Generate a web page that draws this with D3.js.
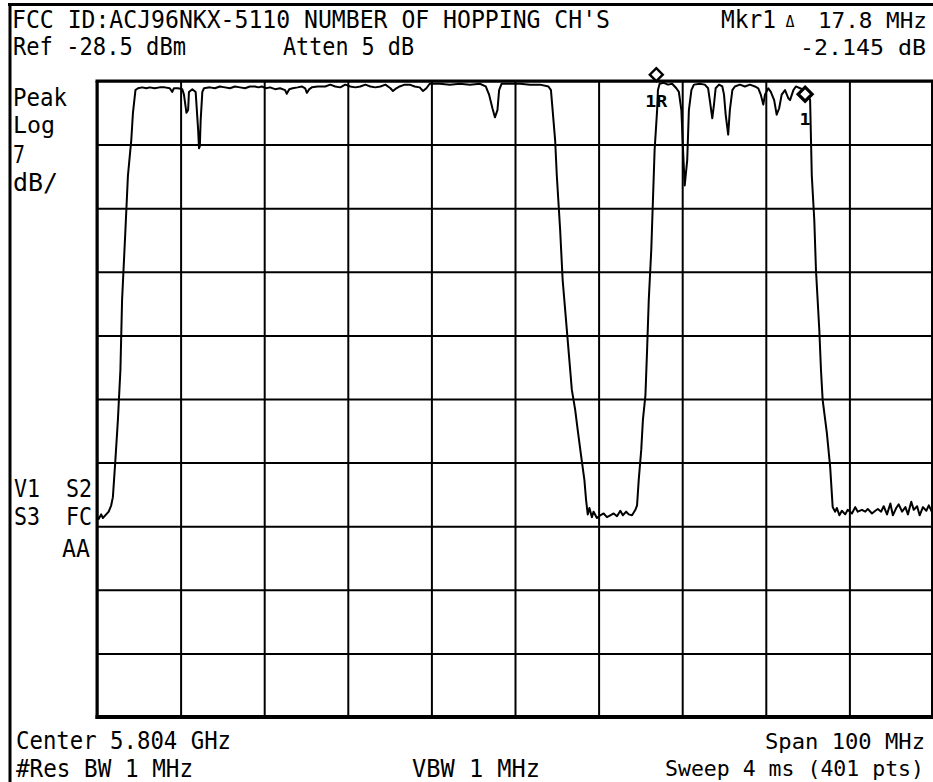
<!DOCTYPE html>
<html>
<head>
<meta charset="utf-8">
<script src="https://cdnjs.cloudflare.com/ajax/libs/d3/7.8.5/d3.min.js"></script>
<style>
  html, body { margin: 0; padding: 0; background: #fff; }
  svg { display: block; }
  text { font-family: "DejaVu Sans Mono", "Liberation Mono", monospace; fill: #000; }
</style>
</head>
<body>
<svg id="chart" width="933" height="782"></svg>
<script>
// ---- Instrument settings ----
const refLevelDBm = -28.5;
const dbPerDiv = 7;
const spanMHz = 100;
const divisions = 10;

// ---- Trace: frequency offset from start of span (MHz) and level (dBm) ----
const freqOffsetMHz = [
  0.0, 0.2, 0.5, 0.7, 1.1, 1.4, 1.7, 1.9, 2.2, 2.5, 2.8, 3.0, 3.4, 3.7, 4.1, 4.3, 4.6, 4.9,
  5.4, 5.9, 6.3, 6.9, 7.5, 8.1, 8.7, 9.0, 9.2, 9.7, 10.2, 10.4, 10.7, 10.9, 11.0, 11.4, 11.8,
  12.1, 12.2, 12.3, 12.4, 12.6, 12.8, 13.5, 14.1, 14.7, 15.3, 15.9, 16.5, 17.1, 17.7, 18.3,
  18.9, 19.3, 19.7, 20.2, 20.7, 21.3, 21.9, 22.5, 22.7, 23.0, 23.4, 24.0, 24.5, 24.9, 25.1,
  25.4, 25.7, 26.4, 27.3, 27.9, 28.5, 29.1, 29.7, 30.3, 30.9, 31.5, 32.1, 32.7, 33.3, 33.9,
  34.5, 35.1, 35.4, 35.8, 36.2, 36.8, 37.4, 38.0, 38.6, 39.0, 39.4, 39.8, 41.0, 42.2, 43.4,
  44.6, 45.8, 46.5, 46.9, 47.3, 47.6, 47.9, 48.1, 48.4, 49.4, 50.6, 51.8, 53.0, 54.0, 54.3,
  54.5, 54.8, 55.0, 55.4, 55.7, 56.1, 56.5, 56.8, 57.2, 57.5, 57.9, 58.3, 58.5, 58.7,
  58.9, 59.2, 59.4, 59.8, 60.2, 60.6, 61.0, 61.4, 61.8, 62.2, 62.6, 62.9, 63.3, 63.6, 64.0,
  64.4, 64.6, 64.8, 65.1, 65.3, 65.6, 65.8, 66.0, 66.3, 66.5, 66.7, 67.0, 67.1, 67.3, 67.8,
  68.3, 68.8, 69.3, 69.6, 69.9, 70.1, 70.3, 70.6, 70.8, 71.1, 71.4, 72.1, 72.7, 73.1, 73.3,
  73.6, 73.8, 74.0, 74.4, 74.8, 75.0, 75.2, 75.5, 75.7, 76.0, 76.3, 76.9, 77.5, 78.1, 78.7,
  79.1, 79.4, 79.7, 79.9, 80.3, 80.6, 81.0, 81.3, 81.6, 81.9, 82.3, 82.7, 82.9, 83.3, 83.6,
  84.1, 84.6, 85.0, 85.3, 85.5, 85.8, 86.0, 86.4, 86.6, 86.8, 87.3, 87.7, 88.0, 88.3,
  88.5, 88.8, 89.1, 89.5, 89.8, 90.3, 90.7, 91.0, 91.5, 91.9, 92.2, 92.7, 93.1, 93.4, 93.8,
  94.1, 94.5, 94.9, 95.2, 95.6, 95.9, 96.3, 96.7, 97.0, 97.4, 97.7, 98.1, 98.4, 98.8, 99.2,
  99.5, 100.0
];
const levelDBm = [
  -76.4, -76.7, -76.2, -76.6, -76.2, -75.9, -75.2, -74.3, -70.2, -65.8, -60.3, -52.6, -44.9, -38.9, -35.0, -32.0, -29.5, -29.3,
  -29.2, -29.3, -29.2, -29.3, -29.2, -29.2, -29.3, -29.7, -29.3, -29.3, -29.4, -30.0, -32.0, -31.7, -29.7, -29.4, -29.7,
  -33.9, -35.9, -35.7, -32.8, -29.7, -29.3, -29.2, -29.3, -29.1, -29.2, -29.3, -29.1, -29.2, -29.3, -29.1,
  -29.1, -29.2, -29.1, -29.3, -29.2, -29.4, -29.3, -29.5, -29.9, -29.4, -29.3, -29.2, -29.1, -29.3, -29.8,
  -29.4, -29.2, -29.1, -29.1, -28.9, -29.1, -29.2, -28.9, -29.1, -29.2, -29.1, -28.9, -29.1, -29.2, -29.1,
  -28.9, -29.3, -29.6, -29.3, -29.1, -28.9, -28.9, -29.1, -29.2, -29.6, -29.3, -28.8, -28.8, -28.9, -28.8,
  -28.9, -28.8, -29.1, -30.0, -31.5, -32.5, -31.7, -29.5, -28.8, -28.8, -28.8, -28.9, -28.9, -29.1, -29.5,
  -31.7, -35.0, -38.9, -44.9, -50.4, -54.8, -59.2, -62.5, -64.7, -66.9, -69.7, -72.4, -74.6, -76.2,
  -75.5, -76.5, -75.9, -76.6, -76.3, -76.1, -76.5, -76.3, -76.1, -76.4, -75.8, -76.3, -75.9, -76.2, -76.3,
  -75.7, -75.2, -72.4, -69.1, -65.8, -63.1, -58.1, -52.6, -47.1, -41.6, -36.1, -31.7, -29.5, -28.8, -28.7,
  -28.9, -28.8, -29.3, -29.7, -31.7, -36.1, -40.0, -37.2, -31.7, -29.5, -28.9, -28.8, -28.9, -29.3, -30.6,
  -32.6, -31.1, -29.3, -28.9, -29.1, -30.0, -32.2, -34.4, -31.7, -29.5, -29.1, -28.9, -29.1, -28.9, -29.1,
  -29.3, -30.0, -31.1, -30.0, -29.3, -29.7, -30.6, -32.2, -31.5, -30.0, -29.5, -30.4, -30.6, -29.5, -29.1,
  -29.3, -29.5, -29.8, -30.6, -38.9, -43.8, -49.3, -55.9, -60.3, -63.6, -67.2, -71.0, -75.4, -75.9,
  -75.5, -76.3, -75.8, -76.2, -75.7, -76.1, -75.4, -75.9, -75.7, -75.9, -75.6, -76.1, -75.8, -75.6, -75.9,
  -75.3, -76.2, -75.0, -76.3, -75.5, -75.1, -75.9, -75.4, -76.2, -74.8, -75.7, -75.3, -76.3, -75.4, -75.8,
  -75.2, -76.2
];

// ---- Delta markers ----
const markerNames = ["1R", "1"];
const markerOffsetMHz = [66.9, 84.7];
const markerLevelDBm = [-27.8, -29.95];

// ---- Screen annotations ----
const headerLines = ["FCC ID:ACJ96NKX-5110 NUMBER OF HOPPING CH'S", "Ref -28.5 dBm", "Atten 5 dB"];
const markerReadout = ["Mkr1", "\u0394", "17.8 MHz", "-2.145 dB"];
const leftLabels = ["Peak", "Log", "7", "dB/"];
const statusLabels = ["V1  S2", "S3  FC", "AA"];
const footerLines = ["Center 5.804 GHz", "Span 100 MHz", "#Res BW 1 MHz", "VBW 1 MHz", "Sweep 4 ms (401 pts)"];

// ---------------- drawing ----------------
const svg = d3.select("#chart");
const W = 933, H = 782;
const plot = { left: 97, top: 81, right: 933, bottom: 717 };
const FS = 24;

const x = d3.scaleLinear().domain([0, spanMHz]).range([plot.left, plot.right]);
const y = d3.scaleLinear().domain([refLevelDBm - dbPerDiv * divisions, refLevelDBm]).range([plot.bottom, plot.top]);

svg.append("rect").attr("width", W).attr("height", H).attr("fill", "#fff");

// outer frame
svg.append("line").attr("x1", 8).attr("x2", W).attr("y1", 4.5).attr("y2", 4.5)
  .attr("stroke", "#000").attr("stroke-width", 3);
svg.append("line").attr("x1", 10).attr("x2", 10).attr("y1", 3).attr("y2", H)
  .attr("stroke", "#000").attr("stroke-width", 3);

// grid via axes
const xGrid = d3.range(0, spanMHz + 0.001, spanMHz / divisions);
const yGrid = d3.range(0, divisions + 1).map(i => refLevelDBm - i * dbPerDiv);

const gx = svg.append("g").attr("transform", `translate(0,${plot.bottom})`)
  .call(d3.axisBottom(x).tickValues(xGrid).tickSize(-(plot.bottom - plot.top)).tickFormat(""));
const gy = svg.append("g").attr("transform", `translate(${plot.left},0)`)
  .call(d3.axisLeft(y).tickValues(yGrid).tickSize(-(plot.right - plot.left)).tickFormat(""));
[gx, gy].forEach(g => {
  g.select(".domain").remove();
  g.selectAll(".tick line").attr("stroke", "#000").attr("stroke-width", 2);
});

// plot border
svg.append("line").attr("x1", plot.left - 1.5).attr("x2", plot.right).attr("y1", plot.top).attr("y2", plot.top)
  .attr("stroke", "#000").attr("stroke-width", 3);
svg.append("line").attr("x1", plot.left).attr("x2", plot.left).attr("y1", plot.top).attr("y2", plot.bottom + 2)
  .attr("stroke", "#000").attr("stroke-width", 3);
svg.append("line").attr("x1", plot.left - 1.5).attr("x2", plot.right).attr("y1", plot.bottom).attr("y2", plot.bottom)
  .attr("stroke", "#000").attr("stroke-width", 4);
svg.append("line").attr("x1", plot.right - 1).attr("x2", plot.right - 1).attr("y1", plot.top).attr("y2", plot.bottom)
  .attr("stroke", "#000").attr("stroke-width", 2);

// trace
const pts = freqOffsetMHz.map((f, i) => [f, levelDBm[i]]);
svg.append("path").datum(pts)
  .attr("fill", "none").attr("stroke", "#000").attr("stroke-width", 2).attr("stroke-linejoin", "round")
  .attr("d", d3.line().x(d => x(d[0])).y(d => y(d[1])));

// markers
markerNames.forEach((name, i) => {
  const cx = x(markerOffsetMHz[i]), cy = y(markerLevelDBm[i]);
  const r = i === 0 ? 6.5 : 7;
  svg.append("path")
    .attr("d", `M${cx},${cy - r}L${cx + r},${cy}L${cx},${cy + r}L${cx - r},${cy}Z`)
    .attr("fill", "#fff").attr("stroke", "#000").attr("stroke-width", i === 0 ? 2.4 : 3.2);
  svg.append("text").attr("x", cx).attr("y", i === 0 ? 107 : cy + 31)
    .attr("text-anchor", "middle").attr("font-size", 16).attr("font-weight", "bold")
    .attr("textLength", name.length * 11).attr("lengthAdjust", "spacingAndGlyphs")
    .text(name);
});

// text helpers
function label(str, x0, x1, baseline, size) {
  return svg.append("text").attr("x", x0).attr("y", baseline).attr("font-size", size || FS)
    .attr("textLength", x1 - x0).attr("lengthAdjust", "spacingAndGlyphs")
    .style("white-space", "pre").text(str);
}

label(headerLines[0], 12, 610, 28);
label(headerLines[1], 13, 186, 55);
label(headerLines[2], 283, 414, 55);

label(markerReadout[0], 721, 776, 28);
svg.append("text").attr("x", 790).attr("y", 27).attr("font-size", 15)
  .attr("text-anchor", "middle").text(markerReadout[1]);
label(markerReadout[2], 818, 927, 28, 22);
label(markerReadout[3], 800, 926, 55, 22);

const leftY = [106, 133, 163, 191];
const leftW = [54, 42, 12, 45];
leftLabels.forEach((s, i) => label(s, 13, 13 + leftW[i], leftY[i], i === 1 ? 23 : FS));

label(statusLabels[0], 14, 92, 497);
label(statusLabels[1], 14, 92, 525);
label(statusLabels[2], 62, 90, 557);

label(footerLines[0], 16, 231, 749);
label(footerLines[1], 765, 925, 749, 22);
label(footerLines[2], 16, 193, 777);
label(footerLines[3], 412, 540, 777);
label(footerLines[4], 665, 924, 776, 21.4);
</script>
</body>
</html>
